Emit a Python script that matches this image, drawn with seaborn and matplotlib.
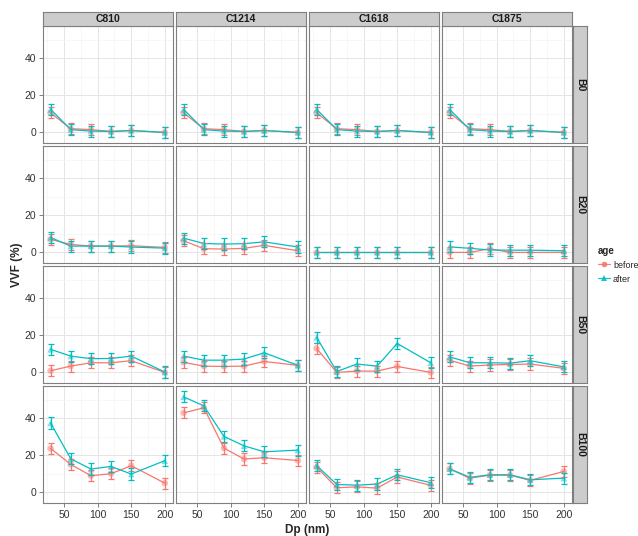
"""VVF vs particle diameter, faceted by blend (rows) and cut (columns)."""

import matplotlib
matplotlib.use("Agg")
import matplotlib.pyplot as plt
import pandas as pd
import seaborn as sns
from matplotlib.lines import Line2D

dp = [30, 60, 90, 120, 150, 200]
cuts = ["C810", "C1214", "C1618", "C1875"]
blends = ["B0", "B20", "B50", "B100"]
ages = ["before", "after"]

# each list holds one series per cut, in the order of `cuts`
b0_before = [
    [10.5, 2.0, 1.5, 0.5, 1.0, 0.0],
    [10.5, 2.0, 1.5, 0.5, 1.0, 0.0],
    [10.5, 2.0, 1.5, 0.5, 1.0, 0.0],
    [10.5, 2.0, 1.5, 0.5, 1.0, 0.0],
]
b0_after = [
    [12.4, 1.5, 0.7, 0.5, 1.0, 0.0],
    [12.4, 1.5, 0.7, 0.5, 1.0, 0.0],
    [12.4, 1.5, 0.7, 0.5, 1.0, 0.0],
    [12.4, 1.5, 0.7, 0.5, 1.0, 0.0],
]
b20_before = [
    [7.0, 4.3, 3.4, 3.4, 3.6, 2.7],
    [6.3, 2.0, 1.8, 2.2, 3.8, 0.9],
    [0.0, 0.0, 0.0, 0.0, 0.0, 0.0],
    [0.0, 0.0, 2.0, 0.0, 0.0, 0.0],
]
b20_after = [
    [8.0, 3.4, 3.4, 3.4, 2.9, 2.3],
    [7.7, 4.8, 4.5, 4.7, 5.7, 2.9],
    [0.0, 0.0, 0.0, 0.0, 0.0, 0.0],
    [3.0, 2.2, 1.3, 1.2, 1.2, 0.9],
]
b50_before = [
    [0.9, 3.4, 5.2, 5.2, 6.3, 0.0],
    [5.4, 3.4, 3.2, 3.4, 5.9, 3.8],
    [12.9, 0.0, 0.7, 0.7, 3.2, 0.0],
    [6.6, 3.4, 4.0, 4.3, 4.5, 2.2],
]
b50_after = [
    [12.4, 8.8, 7.4, 7.5, 8.8, 0.2],
    [8.8, 6.6, 6.6, 7.2, 10.6, 3.8],
    [18.9, 0.5, 4.5, 3.4, 15.6, 5.2],
    [8.4, 5.2, 5.2, 5.0, 6.3, 3.0],
]
b100_before = [
    [23.7, 15.1, 9.0, 10.1, 14.4, 5.0],
    [42.9, 45.6, 23.9, 18.0, 18.7, 17.2],
    [13.6, 2.5, 3.0, 2.3, 8.3, 3.8],
    [12.7, 7.7, 9.3, 9.3, 6.5, 11.3],
]
b100_after = [
    [37.4, 18.1, 12.6, 14.0, 9.9, 17.1],
    [51.5, 46.7, 30.2, 25.1, 21.9, 22.8],
    [14.5, 4.3, 3.9, 4.5, 9.5, 5.2],
    [12.7, 8.1, 9.5, 9.5, 6.8, 7.7],
]
err = 3.0  # half-width of every error bar

series = {
    ("B0", "before"): b0_before, ("B0", "after"): b0_after,
    ("B20", "before"): b20_before, ("B20", "after"): b20_after,
    ("B50", "before"): b50_before, ("B50", "after"): b50_after,
    ("B100", "before"): b100_before, ("B100", "after"): b100_after,
}
rows = []
for (blend, age), per_cut in series.items():
    for cut, values in zip(cuts, per_cut):
        for x, y in zip(dp, values):
            rows.append({"blend": blend, "cut": cut, "age": age, "dp": x, "vvf": y})
df = pd.DataFrame(rows)

sns.set_style("white")
plt.rcParams["font.family"] = ["Liberation Sans", "DejaVu Sans"]

palette = {"before": "#F8766D", "after": "#00BFC4"}
markers = {"before": "o", "after": "^"}
border = "#7F7F7F"

W, H = 638, 536
fig = plt.figure(figsize=(W / 100, H / 100), dpi=100)

pw, ph = 130.0, 117.3
x0s = [42.7 + j * 133.0 for j in range(4)]
y0s = [26.0 + i * 120.0 for i in range(4)]

lo = (df["vvf"] - err).min()
hi = (df["vvf"] + err).max()
pad = 0.05 * (hi - lo)
ylim = (lo - pad, hi + pad)
xpad = 0.05 * (max(dp) - min(dp) + 6)
xlim = (min(dp) - 3 - xpad, max(dp) + 3 + xpad)


def fig_rect(x, y, w, h):
    return [x / W, 1 - (y + h) / H, w / W, h / H]


def strip(rect, label, rotation=0):
    sax = fig.add_axes(rect)
    sax.set_facecolor("#CCCCCC")
    sax.set_xticks([])
    sax.set_yticks([])
    for sp in sax.spines.values():
        sp.set_color(border)
        sp.set_linewidth(0.8)
    sax.text(0.5, 0.45 if rotation == 0 else 0.5, label, ha="center",
             va="center", rotation=rotation, fontsize=7.5, fontweight="bold",
             color="#1A1A1A", transform=sax.transAxes)


for i, blend in enumerate(blends):
    for j, cut in enumerate(cuts):
        ax = fig.add_axes(fig_rect(x0s[j], y0s[i], pw, ph))
        sub = df[(df["blend"] == blend) & (df["cut"] == cut)]
        sns.lineplot(data=sub, x="dp", y="vvf", hue="age", hue_order=ages,
                     palette=palette, lw=0.9, errorbar=None, legend=False, ax=ax)
        sns.scatterplot(data=sub, x="dp", y="vvf", hue="age", style="age",
                        hue_order=ages, palette=palette, markers=markers,
                        s=22, alpha=0.5, linewidth=0, legend=False, ax=ax, zorder=3)
        for age in ages:
            a = sub[sub["age"] == age]
            ax.errorbar(a["dp"], a["vvf"], yerr=err, fmt="none",
                        ecolor=palette[age], elinewidth=0.9, capsize=2.2,
                        capthick=0.9, zorder=4)

        ax.set_xlim(xlim)
        ax.set_ylim(ylim)
        ax.set_xticks([50, 100, 150, 200])
        ax.set_xticks([25, 75, 125, 175], minor=True)
        ax.set_yticks([0, 20, 40])
        ax.set_yticks([10, 30, 50], minor=True)
        ax.grid(which="major", color="#E5E5E5", lw=0.7)
        ax.grid(which="minor", color="#F4F4F4", lw=0.5)
        ax.set_axisbelow(True)
        for sp in ax.spines.values():
            sp.set_color(border)
            sp.set_linewidth(0.8)
        ax.set_xlabel("")
        ax.set_ylabel("")
        ax.tick_params(which="minor", length=0)
        ax.tick_params(which="major", length=3, width=0.7, color=border,
                       labelsize=7.5, labelcolor="#333333", pad=1.5,
                       left=(j == 0), bottom=(i == 3),
                       labelleft=(j == 0), labelbottom=(i == 3))

        if i == 0:
            strip(fig_rect(x0s[j], 11.7, pw, 14.0), cut)
        if j == 3:
            strip(fig_rect(573.0, y0s[i], 14.0, ph), blend, rotation=-90)

fig.text(307 / W, 1 - 530 / H, "Dp (nm)", ha="center", va="center",
         fontsize=8.5, fontweight="bold")
fig.text(17 / W, 1 - 265 / H, "VVF (%)", ha="center", va="center",
         rotation=90, fontsize=8.5, fontweight="bold")

handles = [
    Line2D([], [], color=palette[a], lw=0.9, marker=markers[a], markersize=4,
           markerfacecolor=palette[a], markeredgewidth=0, alpha=0.9)
    for a in ages
]
leg = fig.legend(handles, ages, title="age", loc="upper left",
                 bbox_to_anchor=(594 / W, 1 - 242 / H), frameon=False,
                 fontsize=6.5, title_fontsize=7, handlelength=1.4,
                 handletextpad=0.3, labelspacing=0.55, borderaxespad=0)
leg.get_title().set_fontweight("bold")
leg._legend_box.align = "left"

fig.savefig("out.png", dpi=100)
